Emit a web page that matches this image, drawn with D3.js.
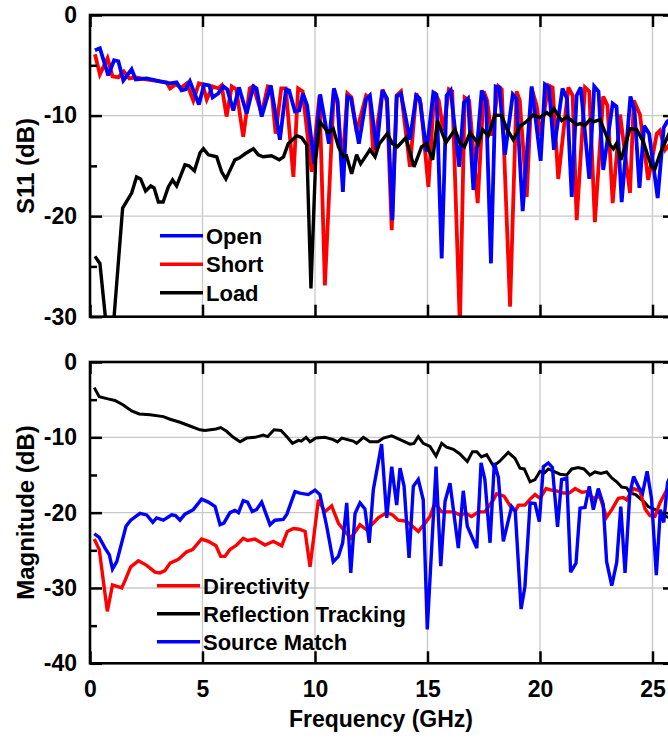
<!DOCTYPE html>
<html>
<head>
<meta charset="utf-8">
<script src="https://cdn.jsdelivr.net/npm/d3@7"></script>
<style>
  body { margin: 0; background: #fff; }
  svg { display: block; font-family: "Liberation Sans", Arial, Helvetica, sans-serif; font-weight: bold; }
  .tick text { font-size: 23px; font-weight: bold; fill: #000; }
  .tick line { stroke: #000; stroke-width: 2.5; }
</style>
</head>
<body>
<svg id="chart" width="668" height="740"></svg>
<script>
// ---- data: [frequency GHz, dB] ----

// top panel, S11 of the standards
const openS11 = [[0.22,-3.5],[0.44,-3.3],[0.81,-6.0],[1.07,-4.5],[1.26,-4.6],[1.48,-6.5],[1.85,-5.4],[2.03,-6.4],[2.52,-6.3],[3.11,-6.6],[3.56,-6.8],[3.85,-6.7],[4.07,-7.5],[4.25,-7.4],[4.44,-6.6],[4.84,-8.9],[5.07,-6.9],[5.3,-7.0],[5.45,-8.2],[5.7,-7.8],[5.93,-7.1],[6.1,-7.4],[6.37,-9.5],[6.62,-7.2],[6.96,-9.8],[7.26,-7.1],[7.4,-7.3],[7.63,-10.1],[8.03,-7.0],[8.44,-12.4],[8.71,-7.4],[8.85,-7.5],[9.11,-9.6],[9.3,-9.5],[9.46,-7.8],[9.65,-9.0],[9.97,-14.8],[10.23,-7.9],[10.62,-12.8],[10.84,-7.3],[11.0,-8.5],[11.24,-17.6],[11.44,-8.1],[11.6,-8.3],[11.95,-12.8],[12.27,-8.4],[12.44,-8.0],[12.74,-13.4],[13.0,-7.5],[13.2,-8.3],[13.44,-20.4],[13.63,-8.1],[13.82,-7.8],[14.22,-12.4],[14.5,-8.0],[14.65,-8.3],[14.96,-13.6],[15.26,-7.7],[15.4,-7.9],[15.63,-24.2],[15.85,-8.0],[16.03,-7.5],[16.41,-15.1],[16.62,-8.7],[16.8,-8.3],[17.04,-17.4],[17.41,-7.5],[17.6,-8.6],[17.82,-24.7],[18.03,-7.1],[18.2,-7.2],[18.44,-13.9],[18.79,-7.9],[18.95,-8.3],[19.23,-19.5],[19.63,-7.1],[20.03,-14.5],[20.22,-6.9],[20.4,-7.2],[20.62,-13.4],[21.0,-7.3],[21.2,-8.3],[21.41,-18.1],[21.63,-8.0],[21.81,-7.2],[22.19,-16.3],[22.41,-7.1],[22.6,-7.6],[22.81,-15.4],[23.23,-8.8],[23.4,-9.1],[23.63,-18.6],[24.02,-8.1],[24.2,-9.5],[24.42,-17.2],[24.63,-11.0],[24.85,-11.8],[25.23,-18.2],[25.5,-11.2],[25.65,-10.6],[25.9,-10.2]];

const shortS11 = [[0.22,-3.9],[0.44,-5.9],[0.78,-4.3],[1.0,-6.1],[1.26,-6.2],[1.5,-5.6],[1.75,-6.3],[2.03,-6.2],[2.5,-6.4],[3.1,-6.6],[3.4,-6.7],[3.56,-7.3],[3.8,-6.9],[4.07,-7.2],[4.3,-6.8],[4.59,-8.5],[4.84,-6.8],[5.0,-6.9],[5.19,-8.4],[5.45,-7.1],[5.7,-7.3],[5.85,-7.0],[6.07,-10.1],[6.3,-7.1],[6.5,-7.4],[6.81,-12.1],[7.1,-7.3],[7.25,-7.1],[7.63,-9.8],[7.9,-7.1],[8.05,-7.2],[8.25,-11.8],[8.5,-7.3],[8.7,-7.3],[9.04,-16.1],[9.25,-7.3],[9.45,-7.6],[9.85,-15.6],[10.2,-8.0],[10.44,-26.9],[10.84,-7.4],[11.0,-8.7],[11.22,-15.0],[11.44,-7.8],[11.62,-8.2],[11.85,-11.6],[12.27,-8.0],[12.44,-8.3],[12.59,-13.8],[13.0,-7.4],[13.2,-8.6],[13.41,-21.4],[13.63,-8.0],[13.82,-7.6],[14.22,-15.1],[14.5,-7.8],[14.7,-8.8],[15.04,-17.1],[15.3,-7.7],[15.5,-8.5],[15.7,-11.5],[15.95,-7.4],[16.1,-7.6],[16.44,-31.0],[16.65,-8.2],[16.85,-8.5],[17.23,-18.7],[17.5,-7.6],[17.65,-8.5],[17.85,-12.0],[18.15,-7.1],[18.3,-7.4],[18.67,-29.0],[18.96,-7.6],[19.1,-8.5],[19.41,-18.1],[19.63,-7.3],[19.85,-9.0],[20.03,-12.0],[20.37,-7.0],[20.56,-7.2],[20.81,-16.3],[21.26,-7.2],[21.45,-8.0],[21.63,-20.4],[22.0,-7.2],[22.19,-7.6],[22.44,-20.6],[22.81,-8.1],[23.0,-9.0],[23.23,-18.7],[23.56,-9.9],[24.0,-17.7],[24.17,-8.5],[24.44,-9.9],[24.81,-16.4],[25.19,-11.8],[25.33,-11.5],[25.56,-13.4],[25.9,-12.5]];

const loadS11 = [[0.22,-24.0],[0.44,-24.7],[0.75,-31.5],[1.0,-32.0],[1.45,-19.2],[1.85,-17.7],[2.07,-16.1],[2.25,-16.3],[2.47,-17.5],[2.7,-17.0],[2.85,-17.2],[3.04,-18.6],[3.25,-18.6],[3.48,-17.1],[3.67,-16.4],[3.85,-17.0],[4.22,-14.9],[4.4,-15.0],[4.64,-15.5],[4.89,-13.7],[5.04,-13.3],[5.26,-13.9],[5.63,-14.1],[5.85,-15.6],[6.04,-16.3],[6.44,-14.4],[6.65,-14.2],[6.89,-13.8],[7.26,-13.3],[7.48,-13.9],[7.7,-14.1],[8.07,-14.0],[8.41,-14.4],[8.6,-14.1],[8.81,-12.8],[9.19,-12.0],[9.41,-12.2],[9.63,-12.9],[9.82,-27.2],[10.03,-14.4],[10.22,-10.6],[10.59,-11.7],[10.81,-11.3],[11.04,-13.1],[11.26,-14.1],[11.4,-14.0],[11.63,-15.8],[11.85,-13.9],[12.03,-14.8],[12.44,-13.4],[12.67,-14.1],[12.86,-12.8],[13.21,-11.8],[13.45,-12.8],[13.67,-13.1],[14.04,-12.2],[14.4,-15.1],[14.74,-13.1],[14.96,-12.8],[15.23,-14.4],[15.44,-10.5],[15.82,-12.7],[16.22,-11.4],[16.44,-12.7],[16.64,-13.1],[16.89,-11.7],[17.26,-12.8],[17.45,-11.4],[17.7,-12.0],[18.0,-9.95],[18.3,-10.0],[18.52,-11.3],[18.81,-12.4],[19.14,-11.0],[19.4,-10.6],[19.7,-9.95],[20.0,-10.2],[20.3,-9.7],[20.45,-10.0],[20.62,-9.3],[20.96,-10.5],[21.19,-10.1],[21.63,-10.9],[21.8,-10.8],[21.99,-11.0],[22.22,-10.4],[22.4,-10.6],[22.67,-10.4],[23.11,-12.9],[23.26,-13.3],[23.4,-12.8],[23.6,-14.4],[24.0,-11.3],[24.3,-11.4],[24.59,-12.6],[24.96,-15.1],[25.11,-15.3],[25.33,-13.8],[25.63,-12.3],[25.9,-11.0]];

// bottom panel, error terms
const directivity = [[0.19,-23.5],[0.41,-24.9],[0.77,-33.1],[1.0,-29.6],[1.41,-30.0],[1.56,-29.0],[1.81,-27.2],[2.15,-26.4],[2.52,-27.0],[2.89,-27.9],[3.11,-28.0],[3.33,-27.7],[3.56,-26.7],[3.93,-26.2],[4.3,-25.2],[4.56,-24.9],[4.96,-23.5],[5.26,-23.8],[5.6,-24.4],[5.81,-25.8],[6.0,-25.8],[6.22,-24.9],[6.52,-24.3],[6.81,-23.4],[7.0,-23.7],[7.33,-23.5],[7.78,-24.3],[8.15,-23.8],[8.52,-24.4],[8.77,-22.5],[9.04,-22.1],[9.3,-22.2],[9.56,-22.5],[9.78,-27.2],[10.15,-18.3],[10.44,-19.9],[10.74,-19.1],[11.04,-21.4],[11.33,-22.5],[11.59,-23.4],[12.0,-21.6],[12.3,-22.3],[12.59,-21.4],[12.81,-20.7],[13.19,-20.0],[13.45,-20.3],[13.7,-21.0],[14.0,-21.1],[14.22,-21.5],[14.59,-22.5],[14.89,-21.4],[15.11,-20.5],[15.33,-18.7],[15.63,-19.9],[15.85,-19.9],[16.15,-19.9],[16.44,-20.3],[16.7,-20.1],[16.96,-20.5],[17.26,-19.9],[17.55,-19.9],[17.93,-18.3],[18.07,-17.5],[18.4,-17.8],[18.74,-19.4],[18.9,-19.8],[19.04,-19.0],[19.33,-19.0],[19.56,-18.2],[19.78,-17.6],[20.0,-18.1],[20.27,-16.8],[20.5,-17.0],[20.74,-17.1],[21.04,-17.4],[21.3,-17.4],[21.56,-16.8],[21.85,-17.3],[22.1,-17.2],[22.37,-18.1],[22.65,-17.8],[22.96,-20.6],[23.19,-19.6],[23.48,-18.1],[23.7,-18.0],[23.85,-18.3],[24.15,-16.8],[24.44,-17.1],[24.67,-19.5],[24.89,-20.4],[25.11,-20.5],[25.33,-18.7],[25.63,-17.0],[25.9,-16.2]];

const reflTracking = [[0.19,-3.4],[0.41,-4.6],[0.8,-4.9],[1.11,-5.1],[1.48,-5.7],[1.85,-6.5],[2.19,-6.9],[2.67,-7.0],[3.26,-7.25],[3.56,-7.6],[4.0,-8.0],[4.44,-8.5],[4.89,-9.0],[5.11,-9.1],[5.6,-8.9],[5.81,-8.7],[6.07,-9.2],[6.37,-10.0],[6.67,-10.6],[6.96,-10.1],[7.33,-10.0],[7.7,-9.7],[7.9,-9.9],[8.18,-9.0],[8.49,-9.1],[8.74,-9.9],[9.0,-10.8],[9.26,-10.4],[9.4,-10.5],[9.6,-10.0],[9.78,-10.6],[10.04,-10.1],[10.44,-10.0],[10.81,-10.3],[11.0,-10.6],[11.19,-10.1],[11.7,-10.5],[11.85,-10.8],[12.15,-10.0],[12.44,-10.6],[12.8,-10.6],[13.04,-10.1],[13.41,-9.8],[13.78,-10.3],[14.0,-10.6],[14.22,-10.9],[14.4,-10.8],[14.59,-9.9],[14.81,-10.8],[15.11,-11.2],[15.38,-12.5],[15.63,-10.8],[15.85,-11.3],[16.15,-11.6],[16.44,-12.2],[16.77,-13.2],[17.0,-11.9],[17.19,-11.9],[17.4,-12.6],[17.63,-12.3],[17.93,-13.8],[18.2,-13.2],[18.59,-12.0],[18.89,-12.8],[19.11,-14.1],[19.3,-14.2],[19.56,-15.9],[19.78,-15.6],[20.0,-14.5],[20.2,-14.7],[20.37,-14.2],[20.59,-14.5],[20.89,-14.9],[21.19,-15.0],[21.41,-14.2],[21.7,-14.0],[21.95,-14.2],[22.22,-15.0],[22.44,-14.6],[22.7,-14.8],[22.96,-14.6],[23.19,-15.4],[23.41,-15.9],[23.63,-16.6],[23.85,-16.7],[24.0,-17.4],[24.25,-17.6],[24.44,-18.1],[24.67,-18.7],[24.81,-19.2],[25.11,-19.6],[25.41,-20.3],[25.9,-20.8]];

const sourceMatch = [[0.19,-22.8],[0.41,-23.3],[0.67,-24.7],[0.86,-25.6],[1.0,-27.5],[1.19,-26.5],[1.6,-21.8],[1.81,-21.0],[2.22,-20.1],[2.52,-20.3],[2.79,-21.3],[2.96,-20.7],[3.26,-21.0],[3.63,-20.3],[3.8,-20.4],[4.0,-21.0],[4.22,-20.2],[4.59,-19.6],[4.96,-18.2],[5.26,-18.6],[5.56,-19.2],[5.78,-21.6],[5.95,-21.4],[6.22,-20.0],[6.44,-19.7],[6.6,-20.0],[6.81,-18.4],[7.0,-18.6],[7.21,-19.85],[7.4,-19.6],[7.63,-18.6],[8.0,-21.6],[8.22,-21.0],[8.59,-20.9],[8.75,-20.2],[9.11,-17.2],[9.33,-17.4],[9.7,-17.6],[10.0,-17.0],[10.22,-17.6],[10.52,-21.8],[10.81,-26.5],[11.04,-25.8],[11.23,-24.0],[11.41,-18.7],[11.59,-28.0],[11.78,-20.1],[12.0,-18.7],[12.22,-19.5],[12.41,-24.0],[12.59,-17.0],[12.96,-10.9],[13.19,-20.7],[13.41,-13.9],[13.63,-19.0],[13.78,-14.1],[13.96,-16.5],[14.18,-26.0],[14.37,-16.5],[14.59,-15.6],[14.81,-18.3],[14.99,-35.5],[15.38,-13.9],[15.59,-27.1],[15.78,-18.5],[16.0,-16.1],[16.37,-24.7],[16.59,-17.1],[16.77,-21.8],[17.19,-24.7],[17.38,-13.4],[17.55,-15.6],[17.78,-24.0],[17.97,-13.4],[18.15,-15.3],[18.37,-23.8],[18.74,-19.2],[18.9,-19.8],[19.16,-32.8],[19.33,-29.8],[19.56,-18.7],[19.78,-18.8],[19.97,-21.2],[20.15,-13.9],[20.37,-13.4],[20.55,-14.0],[20.78,-21.9],[20.96,-15.6],[21.19,-15.4],[21.36,-27.9],[21.6,-26.7],[21.78,-19.4],[22.0,-19.3],[22.19,-16.5],[22.37,-19.6],[22.59,-16.8],[22.81,-18.9],[22.96,-26.5],[23.19,-29.7],[23.41,-26.6],[23.59,-19.2],[23.78,-28.0],[23.99,-17.5],[24.16,-15.2],[24.4,-16.7],[24.56,-17.4],[24.76,-14.5],[24.96,-18.2],[25.17,-28.3],[25.35,-19.6],[25.5,-21.3],[25.67,-16.0],[25.9,-14.5]];

const xTicks = [0, 5, 10, 15, 20, 25];
const topYTicks = [0, -10, -20, -30];
const topYMinor = [-5, -15, -25];
const botYTicks = [0, -10, -20, -30, -40];
const botYMinor = [-5, -15, -25, -35];

const topLegend = ["Open", "Short", "Load"];
const botLegend = ["Directivity", "Reflection Tracking", "Source Match"];

// ---- drawing ----
const svg = d3.select("#chart");

const x = d3.scaleLinear().domain([0, 26]).range([90, 675]);
const yTop = d3.scaleLinear().domain([-30, 0]).range([316.7, 15]);
const yBot = d3.scaleLinear().domain([-40, 0]).range([663.3, 362]);

// plain hyphen for negative labels, like the original plot
const plain = d => String(d);

function panel(id, y, majors, minors, series, legend, showXLabels) {
  const x0 = x.range()[0], x1 = x.range()[1];
  const yb = y.range()[0], yt = y.range()[1];
  const g = svg.append("g");

  // grid lines at inner major ticks
  g.selectAll(".vgrid").data(xTicks.filter(d => d > 0)).enter().append("line")
    .attr("x1", d => x(d)).attr("x2", d => x(d))
    .attr("y1", yt).attr("y2", yb)
    .attr("stroke", "#c8c8c8").attr("stroke-width", 1.3);
  g.selectAll(".hgrid").data(majors.filter(d => d !== y.domain()[0] && d !== y.domain()[1])).enter().append("line")
    .attr("x1", x0).attr("x2", x1)
    .attr("y1", d => y(d)).attr("y2", d => y(d))
    .attr("stroke", "#c8c8c8").attr("stroke-width", 1.3);

  // curves, clipped to the frame
  svg.append("clipPath").attr("id", id)
    .append("rect").attr("x", x0).attr("y", yt).attr("width", x1 - x0).attr("height", yb - yt);
  const line = d3.line().x(d => x(d[0])).y(d => y(d[1]));
  const cg = g.append("g").attr("clip-path", `url(#${id})`);
  series.forEach(s => {
    cg.append("path").datum(s.data)
      .attr("d", line)
      .attr("fill", "none")
      .attr("stroke", s.color)
      .attr("stroke-width", s.width)
      .attr("stroke-linejoin", "miter")
      .attr("stroke-miterlimit", 3);
  });

  // axes with inward ticks
  const left = d3.axisLeft(y).tickValues(majors).tickFormat(plain)
    .tickSizeInner(-12).tickSizeOuter(0).tickPadding(13);
  g.append("g").attr("transform", `translate(${x0},0)`).call(left)
    .call(a => a.select(".domain").remove());
  g.append("g").attr("transform", `translate(${x0},0)`)
    .call(d3.axisLeft(y).tickValues(minors).tickSizeInner(-7).tickSizeOuter(0).tickFormat(""))
    .call(a => a.select(".domain").remove());
  g.append("g").attr("transform", `translate(${x1},0)`)
    .call(d3.axisRight(y).tickValues(majors).tickSizeInner(-12).tickSizeOuter(0).tickFormat(""))
    .call(a => a.select(".domain").remove());
  g.append("g").attr("transform", `translate(${x1},0)`)
    .call(d3.axisRight(y).tickValues(minors).tickSizeInner(-7).tickSizeOuter(0).tickFormat(""))
    .call(a => a.select(".domain").remove());
  g.append("g").attr("transform", `translate(0,${yt})`)
    .call(d3.axisTop(x).tickValues(xTicks).tickSizeInner(-12).tickSizeOuter(0).tickFormat(""))
    .call(a => a.select(".domain").remove());
  const bottom = d3.axisBottom(x).tickValues(xTicks).tickFormat(showXLabels ? plain : "")
    .tickSizeInner(-12).tickSizeOuter(0).tickPadding(17);
  g.append("g").attr("transform", `translate(0,${yb})`).call(bottom)
    .call(a => a.select(".domain").remove());

  g.append("rect")
    .attr("x", x0).attr("y", yt).attr("width", x1 - x0).attr("height", yb - yt)
    .attr("fill", "none").attr("stroke", "#000").attr("stroke-width", 2.6);

  // legend
  const lg = g.append("g");
  legend.items.forEach((name, i) => {
    const s = series.find(d => d.name === name);
    const ly = legend.y + i * legend.dy;
    lg.append("line").attr("x1", legend.x).attr("x2", legend.x + 43)
      .attr("y1", ly).attr("y2", ly)
      .attr("stroke", s.color).attr("stroke-width", 3.6);
    lg.append("text").attr("x", legend.x + 46).attr("y", ly + 8)
      .style("font-size", "22px").text(name);
  });
}

panel("clipTop", yTop, topYTicks, topYMinor, [
  { name: "Short", data: shortS11, color: "#ff0000", width: 3.8 },
  { name: "Open", data: openS11, color: "#0000ff", width: 3.8 },
  { name: "Load", data: loadS11, color: "#000000", width: 3.4 }
], { items: topLegend, x: 160, y: 235.7, dy: 28.5 }, false);

panel("clipBot", yBot, botYTicks, botYMinor, [
  { name: "Reflection Tracking", data: reflTracking, color: "#000000", width: 3 },
  { name: "Directivity", data: directivity, color: "#ff0000", width: 3.4 },
  { name: "Source Match", data: sourceMatch, color: "#0000ff", width: 3.4 }
], { items: botLegend, x: 157, y: 585.7, dy: 28 }, true);

// axis titles
svg.append("text")
  .attr("transform", "translate(34,166) rotate(-90)")
  .attr("text-anchor", "middle").style("font-size", "24px")
  .text("S11 (dB)");
svg.append("text")
  .attr("transform", "translate(34,512.5) rotate(-90)")
  .attr("text-anchor", "middle").style("font-size", "24px")
  .text("Magnitude (dB)");
svg.append("text")
  .attr("x", 381).attr("y", 727)
  .attr("text-anchor", "middle").style("font-size", "23px")
  .text("Frequency (GHz)");
</script>
</body>
</html>
